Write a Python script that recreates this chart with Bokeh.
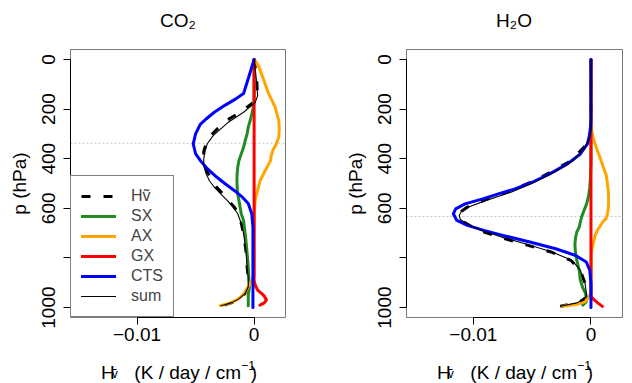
import math
from bokeh.plotting import figure
from bokeh.models import Range1d, FixedTicker, Span, Label, Legend, LegendItem
from bokeh.layouts import row, column
from bokeh.embed import file_html
from bokeh.resources import INLINE

FONT = "Liberation Sans"

# ---------------- data (pressure in hPa, heating in K/day/cm^-1) ----------------
# CO2 panel
co2_cts_p = [0, 70, 137, 160, 185, 213, 240, 262, 300, 340, 380, 407, 440, 474, 500, 528, 555, 581, 622, 676, 720, 1000]
co2_cts_x = [0, -0.00045, -0.0009, -0.0016, -0.0025, -0.0034, -0.0041, -0.0046, -0.0050, -0.0052, -0.0050, -0.0046,
             -0.0040, -0.0032, -0.0025, -0.0017, -0.0010, -0.0005, -0.0002, -0.0001, -0.0001, -0.0001]
co2_h_p = [0, 40, 86, 146, 173, 213, 253, 307, 340, 370, 400, 430, 461, 490, 515, 540, 568, 595, 622, 660, 702,
           770, 836, 880, 917, 945, 965, 980, 993]
co2_h_x = [0, 0.00012, 0.00023, 0.00028, -0.00006, -0.0012, -0.0026, -0.0037, -0.0041, -0.0043, -0.0043, -0.0042,
           -0.0039, -0.0036, -0.0032, -0.0027, -0.0022, -0.0017, -0.0013, -0.0011, -0.0009, -0.0007, -0.0006,
           -0.0005, -0.0005, -0.0008, -0.0013, -0.0019, -0.0027]
co2_sum_p = [0, 40, 86, 146, 173, 213, 253, 307, 340, 370, 400, 430, 461, 490, 515, 540, 568, 595, 622, 660, 702,
             770, 836, 880, 917, 945, 965, 980, 993]
co2_sum_x = [0, 0.0001, 0.0002, 0.0003, 0.0001, -0.0009, -0.0022, -0.0035, -0.0040, -0.0042, -0.0043, -0.0043,
             -0.0041, -0.0038, -0.0034, -0.0029, -0.0023, -0.0018, -0.0014, -0.0011, -0.0009, -0.0007, -0.0006,
             -0.0005, -0.0005, -0.0008, -0.0013, -0.0019, -0.0028]
co2_ax_p = [0, 25, 80, 133, 193, 246, 280, 314, 340, 367, 390, 408, 435, 461, 490, 515, 545, 568, 600, 640, 870,
            900, 937, 955, 970, 982, 992]
co2_ax_x = [0, 0.00037, 0.0008, 0.0012, 0.0018, 0.0021, 0.00215, 0.0021, 0.0019, 0.0016, 0.00145, 0.0014, 0.0011,
            0.0008, 0.0005, 0.00037, 0.0002, 0.0001, 0.00003, 0, 0, -0.0003, -0.00076, -0.0011, -0.0015, -0.0021,
            -0.0029]
co2_sx_p = [0, 160, 200, 240, 273, 300, 327, 354, 381, 408, 434, 461, 488, 515, 541, 568, 595, 622, 649, 690, 729,
            780, 836, 880, 917, 950, 975, 993]
co2_sx_x = [0, 0, -0.0001, -0.0003, -0.0005, -0.0006, -0.00076, -0.0009, -0.0011, -0.0013, -0.0014, -0.00145,
            -0.00147, -0.00145, -0.0014, -0.0013, -0.0012, -0.0011, -0.0009, -0.0008, -0.0007, -0.0006, -0.0005,
            -0.00045, -0.0004, -0.0005, -0.0005, -0.0005]
co2_gx_p = [0, 890, 910, 930, 950, 968, 980, 990]
co2_gx_x = [0, 0, 0.0001, 0.0003, 0.0008, 0.00105, 0.0009, 0.0005]
co2_ref_p = 338

# H2O panel
h2o_cts_p = [0, 250, 300, 340, 381, 421, 461, 495, 521, 541, 562, 582, 602, 622, 649, 669, 689, 709, 736, 763, 790,
             816, 850, 903, 1000]
h2o_cts_x = [0, 0, -0.0001, -0.0003, -0.0009, -0.002, -0.0035, -0.0050, -0.0064, -0.0078, -0.0092, -0.0107,
             -0.0115, -0.0117, -0.0114, -0.0105, -0.0091, -0.0075, -0.0052, -0.0030, -0.0013, -0.0004, -0.0001, 0, 0]
h2o_h_p = [0, 280, 314, 354, 408, 454, 495, 535, 568, 595, 612, 629, 645, 655, 672, 689, 716, 743, 776, 810, 850,
           903, 940, 957, 970, 981, 995]
h2o_h_x = [0, 0, -0.00017, -0.0006, -0.0017, -0.0034, -0.0051, -0.0071, -0.0091, -0.0105, -0.011, -0.0112, -0.0111,
           -0.0108, -0.0102, -0.0095, -0.0078, -0.0058, -0.0034, -0.0017, -0.0009, -0.0005, -0.0004, -0.0004,
           -0.0007, -0.0012, -0.0026]
h2o_sum_p = [0, 280, 314, 354, 408, 454, 495, 535, 568, 595, 612, 629, 645, 655, 672, 689, 716, 743, 776, 810, 850,
             903, 940, 957, 970, 981, 995]
h2o_sum_x = [0, 0, -0.00012, -0.0005, -0.0015, -0.0031, -0.0048, -0.0068, -0.0089, -0.0104, -0.0110, -0.0112,
             -0.0111, -0.0108, -0.0101, -0.0093, -0.0076, -0.0056, -0.0033, -0.0016, -0.0009, -0.0005, -0.0004,
             -0.0004, -0.0007, -0.0012, -0.0026]
h2o_ax_p = [0, 270, 300, 334, 367, 400, 434, 468, 501, 535, 568, 600, 622, 640, 655, 670, 689, 710, 729, 760, 783,
            940, 960, 977, 987, 995]
h2o_ax_x = [0, 0, 0.0001, 0.0003, 0.00054, 0.0008, 0.00105, 0.0013, 0.0014, 0.00148, 0.0015, 0.00148, 0.0014,
            0.0013, 0.001, 0.0008, 0.00054, 0.00035, 0.00026, 0.0001, 0.00003, 0, -0.0002, -0.0005, -0.0012, -0.0024]
h2o_sx_p = [0, 420, 480, 515, 550, 582, 610, 635, 655, 676, 695, 716, 740, 760, 785, 810, 850, 890, 920, 944, 965,
            977, 990]
h2o_sx_x = [0, 0, -0.00005, -0.0001, -0.0002, -0.00037, -0.0006, -0.0008, -0.0009, -0.001, -0.0012, -0.0013,
            -0.00136, -0.00135, -0.0013, -0.0012, -0.001, -0.0009, -0.0007, -0.00045, -0.0004, -0.0004, -0.0007]
h2o_gx_p = [0, 955, 970, 982, 995]
h2o_gx_x = [0, 0, 0.0003, 0.0006, 0.00097]
h2o_ref_p = 633

panel_titles = ["CO\u2082", "H\u2082O"]
x_ticks = [-0.01, 0]
x_tick_labels = {-0.01: "\u22120.01", 0: "0"}
y_ticks = [0, 200, 400, 600, 800, 1000]
y_tick_labels = {0: "0", 200: "200", 400: "400", 600: "600", 800: "", 1000: "1000"}
x_lim = (-0.0150, 0.0020)
y_lim = (0, 1000)
legend_labels = ["H\u1e7d", "SX", "AX", "GX", "CTS", "sum"]

COL = {"h": "black", "sx": "#228B22", "ax": "#FFA500", "gx": "#FF0000", "cts": "#0000FF"}

TOP_H, MAIN_H, BOT_H = 40, 310, 33


def ext(lim, f=0.04):
    d = (lim[1] - lim[0]) * f
    return lim[0] - d, lim[1] + d


def label(p, x, y, s, size, align="left", units="canvas"):
    p.add_layout(Label(x=x, y=y, x_units=units, y_units=units, text=s, text_font=FONT,
                       text_font_size=size, text_align=align, text_baseline="alphabetic",
                       text_color="black"))


def strip(h):
    s = figure(width=632, height=h, x_range=Range1d(0, 632), y_range=Range1d(h, 0),
               x_axis_location=None, y_axis_location=None, toolbar_location=None, title=None,
               min_border=0, output_backend="svg")
    s.outline_line_color = None
    s.background_fill_color = "white"
    s.border_fill_color = "white"
    s.xgrid.visible = False
    s.ygrid.visible = False
    return s


def panel(series, ref_p, left, right, with_legend):
    xr = ext(x_lim)
    yr = ext(y_lim)
    p = figure(width=316, height=MAIN_H, x_range=Range1d(*xr), y_range=Range1d(yr[1], yr[0]),
               output_backend="svg", toolbar_location=None, title=None,
               min_border_left=left, min_border_right=right, min_border_top=9, min_border_bottom=33)
    p.xgrid.visible = False
    p.ygrid.visible = False
    p.outline_line_color = "#7a7a7a"
    p.outline_line_width = 1
    p.background_fill_color = "white"
    p.border_fill_color = "white"

    p.xaxis.ticker = FixedTicker(ticks=x_ticks)
    p.xaxis.major_label_overrides = x_tick_labels
    p.xaxis.bounds = (x_ticks[0], x_ticks[-1])
    p.yaxis.ticker = FixedTicker(ticks=y_ticks)
    p.yaxis.major_label_overrides = y_tick_labels
    p.yaxis.bounds = (y_ticks[0], y_ticks[-1])
    p.yaxis.major_label_orientation = "parallel"
    p.yaxis.axis_label = "p (hPa)"
    p.yaxis.axis_label_text_font = FONT
    p.yaxis.axis_label_text_font_size = "19px"
    p.yaxis.axis_label_text_font_style = "normal"
    p.yaxis.axis_label_text_color = "black"
    p.yaxis.axis_label_standoff = 10
    for ax in (p.xaxis[0], p.yaxis[0]):
        ax.major_tick_in = 0
        ax.major_tick_out = 7
        ax.minor_tick_line_color = None
        ax.axis_line_color = "black"
        ax.major_tick_line_color = "black"
        ax.major_label_text_font = FONT
        ax.major_label_text_font_size = "19px"
        ax.major_label_text_color = "black"
    p.xaxis.major_label_standoff = 3
    p.yaxis.major_label_standoff = 8

    p.add_layout(Span(location=ref_p, dimension="width", line_color="#C8C8C8", line_dash="2 2",
                      line_width=1, level="underlay"))

    (hp, hx), (sxp, sxx), (axp, axx), (gxp, gxx), (cp, cx), (sp, sx) = series
    kw = dict(line_cap="round", line_join="round")
    r_h = p.line(hx, hp, line_color=COL["h"], line_width=3, line_dash="9 13", line_join="round")
    r_sx = p.line(sxx, sxp, line_color=COL["sx"], line_width=3, **kw)
    r_ax = p.line(axx, axp, line_color=COL["ax"], line_width=3, **kw)
    r_gx = p.line(gxx, gxp, line_color=COL["gx"], line_width=3, **kw)
    r_cts = p.line(cx, cp, line_color=COL["cts"], line_width=3, **kw)
    r_sum = p.line(sx, sp, line_color="black", line_width=1.1, **kw)

    if with_legend:
        items = [LegendItem(label=lab, renderers=[r]) for lab, r in
                 zip(legend_labels, [r_h, r_sx, r_ax, r_gx, r_cts, r_sum])]
        lg = Legend(items=items, location=(0, 0), margin=0, padding=10, spacing=0,
                    label_height=20, glyph_height=20, glyph_width=35, label_standoff=15,
                    label_text_font=FONT, label_text_font_size="16px", label_text_baseline="middle",
                    border_line_color="black", border_line_width=1, background_fill_color="white",
                    background_fill_alpha=1.0)
        p.add_layout(lg, "center")
    return p


co2 = panel([(co2_h_p, co2_h_x), (co2_sx_p, co2_sx_x), (co2_ax_p, co2_ax_x), (co2_gx_p, co2_gx_x),
             (co2_cts_p, co2_cts_x), (co2_sum_p, co2_sum_x)], co2_ref_p, 70, 31, True)
h2o = panel([(h2o_h_p, h2o_h_x), (h2o_sx_p, h2o_sx_x), (h2o_ax_p, h2o_ax_x), (h2o_gx_p, h2o_gx_x),
             (h2o_cts_p, h2o_cts_x), (h2o_sum_p, h2o_sum_x)], h2o_ref_p, 90, 10, False)

# titles (top strip) and x-axis labels (bottom strip)
top = strip(TOP_H)
bot = strip(BOT_H)
for i, frame_left in enumerate([70, 406]):
    label(top, frame_left + 107.5, 20, panel_titles[i], "19px", align="center")
    label(bot, frame_left + 30.5, 21.7, "H", "19px")
    label(bot, frame_left + 41.2, 23.5, "\u1e7d", "12px")
    label(bot, frame_left + 170.5, 21.7, "(K / day / cm", "19px", align="right")
    label(bot, frame_left + 170.5, 14.5, "\u22121", "12.5px")
    label(bot, frame_left + 180.2, 21.7, ")", "19px")

layout = column(top, row(co2, h2o, spacing=0), bot, spacing=0)
open("out.html", "w").write(file_html(layout, INLINE))
